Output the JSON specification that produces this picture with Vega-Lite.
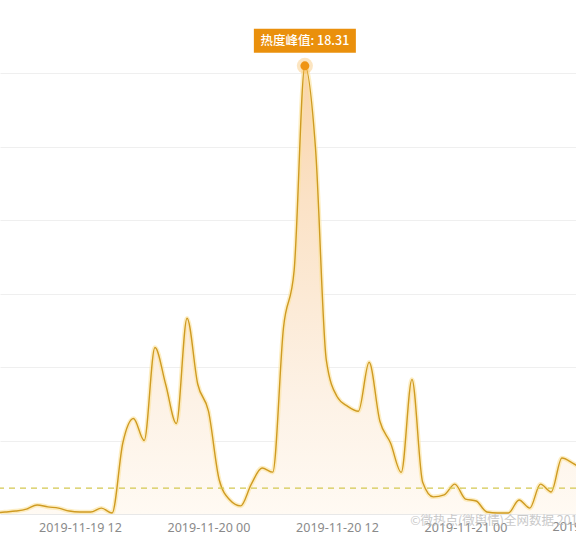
{
  "$schema": "https://vega.github.io/schema/vega-lite/v6.json",
  "width": 576,
  "height": 514,
  "padding": {"left": 0, "top": 0, "right": 0, "bottom": 32},
  "autosize": {"type": "none"},
  "background": "#ffffff",
  "config": {"view": {"stroke": null}},
  "datasets": {
    "heat": [
      {"t": "2019-11-19T04:00:00Z", "v": 0.04},
      {"t": "2019-11-19T05:00:00Z", "v": 0.08},
      {"t": "2019-11-19T06:00:00Z", "v": 0.12},
      {"t": "2019-11-19T07:00:00Z", "v": 0.2},
      {"t": "2019-11-19T08:00:00Z", "v": 0.37},
      {"t": "2019-11-19T09:00:00Z", "v": 0.29},
      {"t": "2019-11-19T10:00:00Z", "v": 0.24},
      {"t": "2019-11-19T11:00:00Z", "v": 0.12},
      {"t": "2019-11-19T12:00:00Z", "v": 0.08},
      {"t": "2019-11-19T13:00:00Z", "v": 0.08},
      {"t": "2019-11-19T14:00:00Z", "v": 0.24},
      {"t": "2019-11-19T15:00:00Z", "v": 0.04},
      {"t": "2019-11-19T16:00:00Z", "v": 2.9},
      {"t": "2019-11-19T17:00:00Z", "v": 3.9},
      {"t": "2019-11-19T18:00:00Z", "v": 3.0},
      {"t": "2019-11-19T19:00:00Z", "v": 6.8},
      {"t": "2019-11-19T20:00:00Z", "v": 5.3},
      {"t": "2019-11-19T21:00:00Z", "v": 3.7},
      {"t": "2019-11-19T22:00:00Z", "v": 8.0},
      {"t": "2019-11-19T23:00:00Z", "v": 5.3},
      {"t": "2019-11-20T00:00:00Z", "v": 4.2},
      {"t": "2019-11-20T01:00:00Z", "v": 1.4},
      {"t": "2019-11-20T02:00:00Z", "v": 0.57},
      {"t": "2019-11-20T03:00:00Z", "v": 0.33},
      {"t": "2019-11-20T04:00:00Z", "v": 1.22},
      {"t": "2019-11-20T05:00:00Z", "v": 1.88},
      {"t": "2019-11-20T06:00:00Z", "v": 1.71},
      {"t": "2019-11-20T07:00:00Z", "v": 7.6},
      {"t": "2019-11-20T08:00:00Z", "v": 9.96},
      {"t": "2019-11-20T09:00:00Z", "v": 18.31},
      {"t": "2019-11-20T10:00:00Z", "v": 14.9},
      {"t": "2019-11-20T11:00:00Z", "v": 6.3},
      {"t": "2019-11-20T12:00:00Z", "v": 4.8},
      {"t": "2019-11-20T13:00:00Z", "v": 4.4},
      {"t": "2019-11-20T14:00:00Z", "v": 4.2},
      {"t": "2019-11-20T15:00:00Z", "v": 6.2},
      {"t": "2019-11-20T16:00:00Z", "v": 3.8},
      {"t": "2019-11-20T17:00:00Z", "v": 2.9},
      {"t": "2019-11-20T18:00:00Z", "v": 1.7},
      {"t": "2019-11-20T19:00:00Z", "v": 5.5},
      {"t": "2019-11-20T20:00:00Z", "v": 1.3},
      {"t": "2019-11-20T21:00:00Z", "v": 0.7},
      {"t": "2019-11-20T22:00:00Z", "v": 0.78},
      {"t": "2019-11-20T23:00:00Z", "v": 1.22},
      {"t": "2019-11-21T00:00:00Z", "v": 0.61},
      {"t": "2019-11-21T01:00:00Z", "v": 0.53},
      {"t": "2019-11-21T02:00:00Z", "v": 0.08},
      {"t": "2019-11-21T03:00:00Z", "v": 0.04},
      {"t": "2019-11-21T04:00:00Z", "v": 0.04},
      {"t": "2019-11-21T05:00:00Z", "v": 0.57},
      {"t": "2019-11-21T06:00:00Z", "v": 0.24},
      {"t": "2019-11-21T07:00:00Z", "v": 1.22},
      {"t": "2019-11-21T08:00:00Z", "v": 0.9},
      {"t": "2019-11-21T09:00:00Z", "v": 2.29},
      {"t": "2019-11-21T10:00:00Z", "v": 2.08},
      {"t": "2019-11-21T11:00:00Z", "v": 1.8}
    ]
  },
  "data": {"name": "heat"},
  "encoding": {
    "x": {
      "field": "t",
      "type": "temporal",
      "scale": {
        "type": "utc",
        "domain": [
          {"year": 2019, "month": 11, "date": 19, "hours": 4, "minutes": 32, "utc": true},
          {"year": 2019, "month": 11, "date": 21, "hours": 10, "minutes": 19, "utc": true}
        ]
      },
      "axis": {
        "title": null,
        "values": [
          {"year": 2019, "month": 11, "date": 19, "hours": 12, "utc": true},
          {"year": 2019, "month": 11, "date": 20, "hours": 0, "utc": true},
          {"year": 2019, "month": 11, "date": 20, "hours": 12, "utc": true},
          {"year": 2019, "month": 11, "date": 21, "hours": 0, "utc": true}
        ],
        "labelExpr": "utcFormat(datum.value, '%Y-%m-%d %H')",
        "labelFont": "Noto Sans",
        "labelFontSize": 12.5,
        "labelColor": "#8a8a8a",
        "labelPadding": 7,
        "labelOverlap": false,
        "labelBound": false,
        "labelFlush": false,
        "ticks": false,
        "grid": false,
        "domainColor": "#e8e8e8",
        "domainWidth": 1
      }
    },
    "y": {
      "field": "v",
      "type": "quantitative",
      "scale": {"domain": [0, 21], "nice": false, "zero": true},
      "axis": {
        "title": null,
        "labels": false,
        "ticks": false,
        "domain": false,
        "values": [3, 6, 9, 12, 15, 18],
        "gridColor": "#efefef",
        "gridWidth": 1
      }
    }
  },
  "layer": [
    {
      "mark": {
        "type": "area",
        "interpolate": "monotone",
        "clip": true,
        "color": {
          "gradient": "linear",
          "x1": 0, "y1": 0, "x2": 0, "y2": 1,
          "stops": [
            {"offset": 0, "color": "#f9d4a8"},
            {"offset": 0.3, "color": "#fbe2c6"},
            {"offset": 0.75, "color": "#fdf2e6"},
            {"offset": 1, "color": "#fffaf3"}
          ]
        }
      }
    },
    {
      "mark": {
        "type": "line",
        "interpolate": "monotone",
        "clip": true,
        "stroke": "#fbe39c",
        "strokeWidth": 4.5,
        "opacity": 0.6
      }
    },
    {
      "mark": {
        "type": "line",
        "interpolate": "monotone",
        "clip": true,
        "stroke": "#cf9b22",
        "strokeWidth": 1.4
      }
    },
    {
      "data": {"values": [{"ref": 1.06}]},
      "mark": {
        "type": "rule",
        "stroke": "#d4c850",
        "strokeWidth": 1.3,
        "strokeDash": [6, 5]
      },
      "encoding": {
        "x": null,
        "y": {"field": "ref", "type": "quantitative"}
      }
    },
    {
      "transform": [
        {"joinaggregate": [{"op": "max", "field": "v", "as": "vmax"}]},
        {"filter": "datum.v === datum.vmax"},
        {"calculate": "'热度峰值: ' + datum.v", "as": "label"}
      ],
      "layer": [
        {
          "mark": {"type": "point", "filled": true, "size": 260, "color": "#f7b54c", "opacity": 0.35}
        },
        {
          "mark": {"type": "point", "filled": true, "size": 80, "color": "#ef9414", "opacity": 1}
        },
        {
          "mark": {
            "type": "point",
            "filled": true,
            "shape": "M-1,-0.235H1V0.235H-1Z",
            "size": 10404,
            "color": "#ea900c",
            "opacity": 1,
            "yOffset": -25
          }
        },
        {
          "mark": {
            "type": "text",
            "font": "Noto Sans CJK SC",
            "fontSize": 12.5,
            "fontWeight": 500,
            "color": "#ffffff",
            "align": "center",
            "baseline": "middle",
            "yOffset": -25
          },
          "encoding": {"text": {"field": "label"}}
        }
      ]
    },
    {
      "data": {"values": [{"tick": "2019-11-21 12", "t": "2019-11-21T12:00:00Z", "v": 0}]},
      "mark": {
        "type": "text",
        "font": "Noto Sans",
        "fontSize": 12.5,
        "color": "#8a8a8a",
        "align": "center",
        "baseline": "top",
        "dy": 7
      },
      "encoding": {"text": {"field": "tick"}}
    },
    {
      "data": {"values": [{"note": "©微热点(微舆情)全网数据 2019", "t": "2019-11-20T18:50:00Z", "v": -0.3}]},
      "mark": {
        "type": "text",
        "font": "Noto Sans CJK SC",
        "fontSize": 12.5,
        "color": "#b8b8b8",
        "opacity": 0.75,
        "align": "left",
        "baseline": "middle"
      },
      "encoding": {"text": {"field": "note"}}
    }
  ]
}
